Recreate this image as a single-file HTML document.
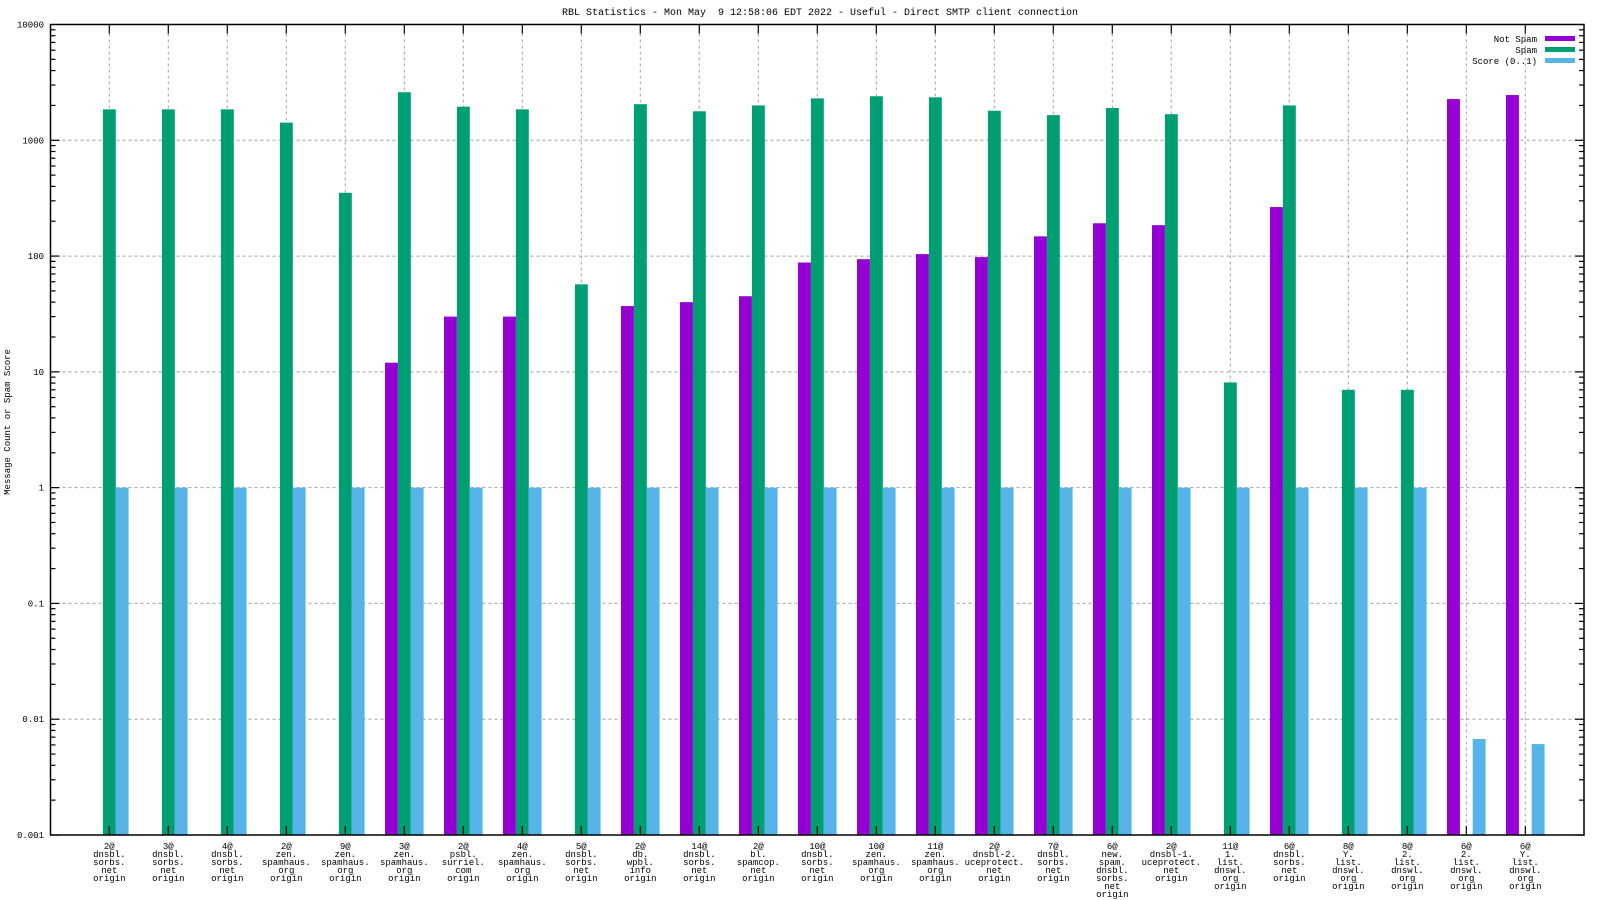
<!DOCTYPE html>
<html><head><meta charset="utf-8"><style>
body{margin:0;background:#fff;}
svg{display:block;font-family:"Liberation Mono",monospace;}
text{white-space:pre;}
</style></head><body>
<svg id="chart" width="1600" height="900" xmlns="http://www.w3.org/2000/svg">
<rect width="1600" height="900" fill="#fff"/>
<text x="820" y="15" font-size="10" text-anchor="middle" xml:space="preserve">RBL Statistics - Mon May  9 12:58:06 EDT 2022 - Useful - Direct SMTP client connection</text>
<text transform="translate(10,422) rotate(-90)" font-size="9" text-anchor="middle">Message Count or Spam Score</text>
<g id="grid"></g><g id="bars"></g><g id="axes"></g><g id="labels"></g>
<g id="legend">
<text x="1537" y="42" font-size="9" text-anchor="end">Not Spam</text>
<rect x="1545" y="36" width="30" height="5" fill="#9400d3"/>
<text x="1537" y="53" font-size="9" text-anchor="end">Spam</text>
<rect x="1545" y="47" width="30" height="5" fill="#009e73"/>
<text x="1537" y="64" font-size="9" text-anchor="end">Score (0..1)</text>
<rect x="1545" y="58" width="30" height="5" fill="#56b4e9"/>
</g>
</svg>
<script>
const categories = ["2@ dnsbl. sorbs. net origin","3@ dnsbl. sorbs. net origin","4@ dnsbl. sorbs. net origin","2@ zen. spamhaus. org origin","9@ zen. spamhaus. org origin","3@ zen. spamhaus. org origin","2@ psbl. surriel. com origin","4@ zen. spamhaus. org origin","5@ dnsbl. sorbs. net origin","2@ db. wpbl. info origin","14@ dnsbl. sorbs. net origin","2@ bl. spamcop. net origin","10@ dnsbl. sorbs. net origin","10@ zen. spamhaus. org origin","11@ zen. spamhaus. org origin","2@ dnsbl-2. uceprotect. net origin","7@ dnsbl. sorbs. net origin","6@ new. spam. dnsbl. sorbs. net origin","2@ dnsbl-1. uceprotect. net origin","11@ 1. list. dnswl. org origin","6@ dnsbl. sorbs. net origin","8@ Y. list. dnswl. org origin","8@ 2. list. dnswl. org origin","6@ 2. list. dnswl. org origin","6@ Y. list. dnswl. org origin"];
const notSpam = [0,0,0,0,0,12,30,30,0,37,40,45,88,94,104,98,148,192,185,0,265,0,0,2270,2460];
const spam = [1850,1850,1850,1420,352,2600,1950,1850,57,2050,1780,2000,2300,2400,2350,1800,1650,1900,1680,8.1,2000,7,7,0,0];
const score = [1,1,1,1,1,1,1,1,1,1,1,1,1,1,1,1,1,1,1,1,1,1,1,0.00675,0.0061];
const yTicks = [10000,1000,100,10,1,0.1,0.01,0.001];
const yTickLabels = ["10000","1000","100","10","1","0.1","0.01","0.001"];

const NS="http://www.w3.org/2000/svg";
const L=50.5,R=1584,T=24.5,B=835;
const yMin=-3,yMax=4;
function y(v){return B-(Math.log10(v)-yMin)/(yMax-yMin)*(B-T);}
function xc(i){return 109.3+59*i;}
function mk(tag,attrs,parent){const e=document.createElementNS(NS,tag);for(const k in attrs)e.setAttribute(k,attrs[k]);document.getElementById(parent).appendChild(e);return e;}
yTicks.forEach((t,i)=>{
  if(i>0&&i<yTicks.length-1){const g=mk('line',{x1:L,x2:R,y1:y(t),y2:y(t),stroke:'#a0a0a0','stroke-dasharray':'3,3','stroke-width':1},'grid');
  
  }
});
categories.forEach((c,i)=>{
  const g=mk('line',{x1:xc(i),x2:xc(i),y1:T+9,y2:B-9,stroke:'#a0a0a0','stroke-dasharray':'3,3','stroke-width':1},'grid');
  
  
});
const W=12.9;
const series=[[notSpam,'#9400d3',-19.3,'bar-not-spam'],[spam,'#009e73',-6.4,'bar-spam'],[score,'#56b4e9',6.4,'bar-score']];
series.forEach(([arr,col,off,nm])=>{
  arr.forEach((v,i)=>{
    if(!(v>0))return;
    const top=y(v);
    const r=mk('rect',{x:xc(i)+off,y:top,width:W,height:B-top,fill:col},'bars');
    
    
  });
});
const ax=mk('rect',{x:L,y:T,width:R-L,height:B-T,fill:'none',stroke:'#000','stroke-width':1.5},'axes');


for(let d=yMin;d<yMax;d++){
  for(let m=1;m<10;m++){
    const yy=y(m*Math.pow(10,d));const len=m===1?9:5;
    mk('line',{x1:L,x2:L+len,y1:yy,y2:yy,stroke:'#000','stroke-width':1.2},'axes');
    mk('line',{x1:R,x2:R-len,y1:yy,y2:yy,stroke:'#000','stroke-width':1.2},'axes');
  }
}
yTicks.forEach((t,i)=>{
  const tx=mk('text',{x:44,y:y(t)+3,'font-size':9,'text-anchor':'end'},'labels');
  tx.textContent=yTickLabels[i];
  
  
});
categories.forEach((c,i)=>{
  mk('line',{x1:xc(i),x2:xc(i),y1:T,y2:T+9,stroke:'#000','stroke-width':1.2},'axes');
  mk('line',{x1:xc(i),x2:xc(i),y1:B,y2:B-9,stroke:'#000','stroke-width':1.2},'axes');
  const tx=mk('text',{x:xc(i),y:849,'font-size':9,'text-anchor':'middle'},'labels');
  
  
  c.split(' ').forEach((ln,j)=>{
    const ts=document.createElementNS(NS,'tspan');
    ts.setAttribute('x',xc(i));ts.setAttribute('y',849+j*8);
    ts.textContent=ln;tx.appendChild(ts);
  });
});
</script>
</body></html>
